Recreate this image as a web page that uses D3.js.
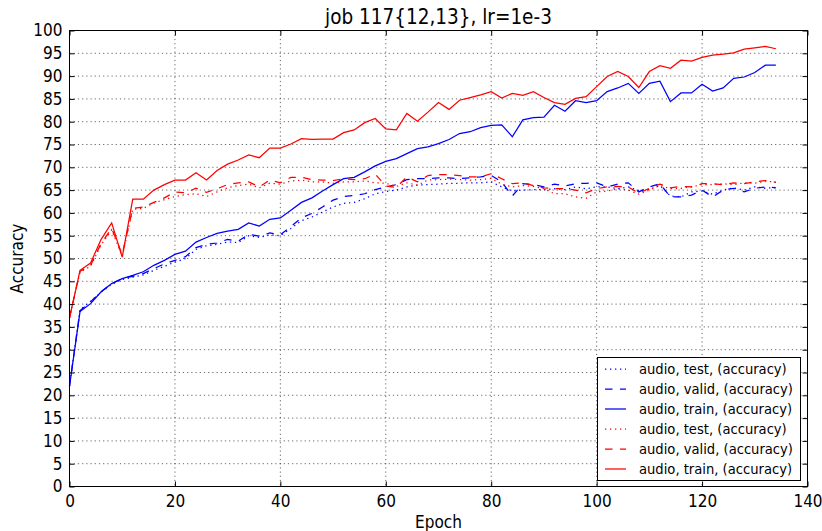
<!DOCTYPE html>
<html><head><meta charset="utf-8">
<script src="https://cdn.jsdelivr.net/npm/d3@7"></script>
<style>
body{margin:0;background:#fff;}
text{font-family:"DejaVu Sans Condensed","DejaVu Sans",sans-serif;font-stretch:condensed;}
</style></head><body>
<svg id="c" width="822" height="531"></svg>
<script>
const epochs = d3.range(0, 135, 2);
const blueTest = [22,38.8,40.6,42.6,44.3,45.4,45.9,46.4,47.4,48.3,49.2,50.0,52.0,52.8,53.1,53.6,53.5,55.0,54.6,55.2,55.0,56.6,58.3,59.1,60.2,61.3,62.1,62.3,63.1,64.2,64.7,65.0,65.7,66.1,66.2,66.3,66.5,66.5,66.6,66.6,66.8,65.7,64.8,65.0,65.1,65.1,65.3,65.1,65.7,65.3,65.7,65.7,65.3,65.7,64.9,65.2,66.0,63.7,63.5,64.6,64.8,64.1,65.0,65.5,65.0,65.7,65.4,65.6];
const blueValid = [22,38.6,40.5,42.7,44.5,45.6,46.1,46.7,47.8,48.8,49.6,50.4,52.4,53.1,53.4,54.2,53.8,55.3,54.9,55.6,55.2,57.0,58.9,59.9,61.3,62.8,63.6,63.8,64.2,65.1,65.7,66.2,67.3,67.5,67.5,67.7,67.7,67.5,67.7,67.9,68.2,66.8,63.7,66.4,66.2,65.7,66.3,65.9,66.4,66.5,66.6,65.7,66.3,66.6,64.6,65.7,66.4,63.5,63.5,63.9,65.0,63.5,65.0,65.4,64.6,65.4,65.7,65.5];
const blueTrain = [22,38.4,40.1,42.7,44.5,45.6,46.3,47.1,48.5,49.6,50.9,51.6,53.6,54.6,55.5,56.0,56.4,57.8,57.1,58.6,58.9,60.6,62.3,63.3,64.8,66.2,67.5,67.8,69.0,70.3,71.3,71.9,73.0,74.1,74.5,75.2,76.1,77.4,77.8,78.7,79.2,79.3,76.7,80.4,80.9,81.0,83.6,82.3,84.6,84.2,84.6,86.6,87.4,88.4,86.2,88.4,88.9,84.4,86.3,86.3,88.2,86.7,87.4,89.5,89.8,90.8,92.4,92.4];
const redTest = [37,47.0,48.3,53.0,56.3,50.5,60.8,61.0,62.2,62.9,63.6,64.0,64.2,63.6,64.6,65.5,66.0,66.3,65.5,66.5,66.3,67.0,67.2,66.8,66.8,66.5,66.8,66.8,67.0,66.6,66.5,65.8,66.6,66.1,67.2,67.3,67.4,67.3,67.2,67.3,67.6,66.3,65.7,66.0,65.8,65.3,64.2,64.2,63.5,63.2,64.6,64.8,65.3,65.0,64.1,65.0,66.0,65.3,65.4,65.7,66.2,66.2,66.4,66.2,66.6,66.5,67.0,66.7];
const redValid = [37,47.2,48.5,53.3,56.6,50.9,61.0,61.3,62.3,63.3,64.6,64.4,65.4,64.5,65.3,66.2,66.6,66.8,65.7,67.2,66.6,67.8,67.8,67.3,67.2,67.1,67.5,67.3,67.5,68.5,65.9,65.6,67.9,66.8,68.2,68.4,68.4,68.2,67.9,67.9,68.6,67.5,66.4,66.6,66.0,65.5,65.3,65.3,65.0,64.4,65.3,65.7,65.8,65.7,64.3,65.4,66.3,65.5,65.8,65.7,66.4,66.4,66.2,66.6,66.4,66.8,67.1,66.7];
const redTrain = [37,47.4,49.0,54.2,57.8,50.3,63.0,63.0,65.0,66.2,67.2,67.2,68.8,67.2,69.3,70.7,71.6,72.7,72.1,74.2,74.2,75.1,76.3,76.1,76.2,76.2,77.6,78.2,79.8,80.7,78.4,78.2,81.8,80.1,82.1,84.2,82.7,84.7,85.3,85.9,86.6,85.2,86.2,85.8,86.6,85.3,84.2,83.8,85.1,85.5,87.7,89.9,91.0,89.9,87.5,91.0,92.3,91.7,93.5,93.3,94.1,94.6,94.8,95.1,95.9,96.2,96.5,96.0];
const xTicks = [0,20,40,60,80,100,120,140];
const yTicks = d3.range(0, 101, 5);
const seriesNames = ["audio, test, (accuracy)","audio, valid, (accuracy)","audio, train, (accuracy)","audio, test, (accuracy)","audio, valid, (accuracy)","audio, train, (accuracy)"];
const seriesColors = ["#0000ff","#0000ff","#0000ff","#ff0000","#ff0000","#ff0000"];
const seriesDash = ["1.3,3.7","7.5,7.5",null,"1.3,3.7","7.5,7.5",null];
const seriesData = [blueTest, blueValid, blueTrain, redTest, redValid, redTrain];

const L = 69.5, R = 807.5, T = 30.5, B = 486.5;
const svg = d3.select("#c");
const x = d3.scaleLinear().domain([0,140]).range([L,R]);
const y = d3.scaleLinear().domain([0,100]).range([B,T]);

// grid
const grid = svg.append("g");
grid.selectAll("line.gx").data(xTicks.slice(1,-1)).join("line")
  .attr("x1", d=>x(d)).attr("x2", d=>x(d)).attr("y1", T).attr("y2", B);
grid.selectAll("line.gy").data(yTicks.slice(1,-1)).join("line").attr("class","gy")
  .attr("y1", d=>y(d)).attr("y2", d=>y(d)).attr("x1", L).attr("x2", R);
grid.selectAll("line").attr("stroke","#000").attr("stroke-opacity",0.75).attr("stroke-width",0.8).attr("stroke-dasharray","1.2,3");

// lines
const line = d3.line().x((d,i)=>x(epochs[i])).y(d=>y(d));
seriesData.forEach((s,k)=>{
  svg.append("path").datum(s).attr("d", line).attr("fill","none")
    .attr("stroke", seriesColors[k]).attr("stroke-width",1.25)
    .attr("stroke-dasharray", seriesDash[k]);
});

// axes
const fs = "17px";
function styleAxis(g){ g.select(".domain").remove(); g.selectAll("line").attr("stroke","#000"); g.selectAll("text").attr("font-size",fs).attr("fill","#000").style("font-family",'"DejaVu Sans Condensed","DejaVu Sans",sans-serif'); }
svg.append("g").attr("transform",`translate(0,${B})`).call(d3.axisBottom(x).tickValues(xTicks).tickSizeInner(-5).tickSizeOuter(0).tickPadding(8)).call(styleAxis);
svg.append("g").attr("transform",`translate(0,${T})`).call(d3.axisTop(x).tickValues(xTicks).tickSizeInner(-5).tickSizeOuter(0).tickFormat("")).call(styleAxis);
svg.append("g").attr("transform",`translate(${L},0)`).call(d3.axisLeft(y).tickValues(yTicks).tickSizeInner(-5).tickSizeOuter(0).tickPadding(7)).call(styleAxis);
svg.append("g").attr("transform",`translate(${R},0)`).call(d3.axisRight(y).tickValues(yTicks).tickSizeInner(-5).tickSizeOuter(0).tickFormat("")).call(styleAxis);

svg.append("rect").attr("x",L).attr("y",T).attr("width",R-L).attr("height",B-T).attr("fill","none").attr("stroke","#000").attr("stroke-width",1);

// title and labels
svg.append("text").attr("x",(L+R)/2).attr("y",24).attr("text-anchor","middle").attr("font-size","20.5px").text("job 117{12,13}, lr=1e-3");
svg.append("text").attr("x",(L+R)/2).attr("y",528).attr("text-anchor","middle").attr("font-size","17px").text("Epoch");
svg.append("text").attr("transform",`translate(23,${(T+B)/2}) rotate(-90)`).attr("text-anchor","middle").attr("font-size","17px").text("Accuracy");

// legend
const lg = svg.append("g");
lg.append("rect").attr("x",597.5).attr("y",357.5).attr("width",203).attr("height",123).attr("fill","#fff").attr("stroke","#000").attr("stroke-width",1);
seriesNames.forEach((n,k)=>{
  const yy = 369 + 20*k;
  lg.append("line").attr("x1",605).attr("x2",626).attr("y1",yy).attr("y2",yy)
    .attr("stroke",seriesColors[k]).attr("stroke-width",1.25).attr("stroke-dasharray",seriesDash[k]);
  lg.append("text").attr("x",639).attr("y",yy).attr("dy","0.35em").attr("font-size","14.6px").text(n);
});
</script></body></html>
